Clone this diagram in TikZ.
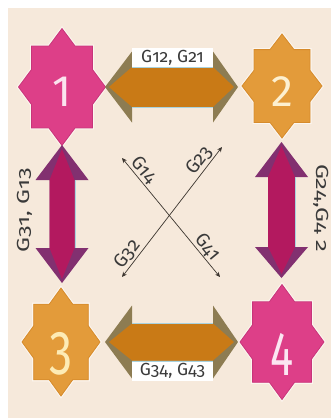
\documentclass[tikz,border=0pt]{standalone}
\usepackage{fontspec}
\usepackage{graphicx}
\usetikzlibrary{arrows.meta}
\setmainfont{Fira Sans}
\newfontfamily\labfont{Fira Sans}[Numbers=OldStyle]
\newfontfamily\digfont{Fira Sans}[Numbers=Lining]
\definecolor{bg}{HTML}{F6E9DB}
\definecolor{halo}{HTML}{FCF6EF}
\definecolor{pinkstar}{HTML}{DD3F88}
\definecolor{pinkedge}{HTML}{C8357A}
\definecolor{orstar}{HTML}{E39B3A}
\definecolor{oredge}{HTML}{D68B2C}
\definecolor{harrow}{HTML}{C97A16}
\definecolor{hflange}{HTML}{8D7C52}
\definecolor{varrow}{HTML}{B3195F}
\definecolor{vflange}{HTML}{823070}
\definecolor{labtext}{HTML}{3A3A3A}
\definecolor{glow}{HTML}{A9D2DE}
\definecolor{crossline}{HTML}{3B342E}
\definecolor{dgone}{HTML}{FBE3EE}
\definecolor{dgtwo}{HTML}{FDF0D0}
\definecolor{dgthree}{HTML}{FDEBB5}
\definecolor{dgfour}{HTML}{FBE6F2}
\newcommand\eightstar[5]{%
  \begin{scope}[shift={(#1,#2)},xscale=#3,yscale=#4]
  \draw[halo,line width=3pt,line join=miter] (0,-1)--(0.3,-0.7)--(0.7,-0.7)--(0.7,-0.3)--(1,0)--(0.7,0.3)--(0.7,0.7)--(0.3,0.7)--(0,1)--(-0.3,0.7)--(-0.7,0.7)--(-0.7,0.3)--(-1,0)--(-0.7,-0.3)--(-0.7,-0.7)--(-0.3,-0.7)--cycle;
  \filldraw[#5] (0,-1)--(0.3,-0.7)--(0.7,-0.7)--(0.7,-0.3)--(1,0)--(0.7,0.3)--(0.7,0.7)--(0.3,0.7)--(0,1)--(-0.3,0.7)--(-0.7,0.7)--(-0.7,0.3)--(-1,0)--(-0.7,-0.3)--(-0.7,-0.7)--(-0.3,-0.7)--cycle;
  \end{scope}}
\begin{document}
\begin{tikzpicture}[x=1pt,y=-1pt,
  pinkst/.style={fill=pinkstar,draw=pinkedge,line width=0.8pt},
  orst/.style={fill=orstar,draw=oredge,line width=0.8pt},
  lab/.style={font=\labfont\fontsize{17.5}{20}\selectfont, text=labtext, inner sep=0pt},
  dig/.style={font=\digfont\fontsize{44}{50}\selectfont, inner sep=0pt},
  bigdig/.style={font=\digfont\fontsize{62}{70}\selectfont, inner sep=0pt},
  cross/.style={draw=crossline, line width=0.7pt, {Stealth[length=5pt,width=4.5pt]}-{Stealth[length=5pt,width=4.5pt]}},
  clab/.style={font=\labfont\fontsize{19}{21}\selectfont, text=labtext, sloped, above, inner sep=1.5pt},
  glowline/.style={draw=glow, line width=0.8pt}
]
\useasboundingbox (0,0) rectangle (331,418);
\fill[bg] (8,8) rectangle (331,418);
% stars
\eightstar{62}{87}{43.5}{58.5}{pinkst}
\eightstar{282}{86}{40}{52}{orst}
\eightstar{61}{342}{39}{54}{orst}
\eightstar{282}{342}{42}{57.5}{pinkst}
\node[dig, text=dgone] (n1) at (62,91.5) {1};
\node[dig, text=dgtwo] (n2) at (282,91.5) {2};
\node[bigdig, text=dgthree] (n3) at (61,353.5) {\scalebox{0.75}[1]{3}};
\node[bigdig, text=dgfour] (n4) at (282,354) {\scalebox{0.7}[1]{4}};
% top horizontal arrow
\fill[hflange] (105,87)--(132,51.5)--(132,67)--(213,67)--(213,51.5)--(238,87)--(213,122.5)--(213,107)--(132,107)--(132,122.5)--cycle;
\fill[harrow] (109,87)--(132,67)--(213,67)--(234,87)--(213,107)--(132,107)--cycle;
\fill[white] (132,48) rectangle (213,66.6);
\draw[glowline] (132,67.2)--(213,67.2);
\draw[glowline] (132,107.6)--(213,107.6);
\node[lab] (l12) at (172.5,57.5) {G12, G21};
% bottom horizontal arrow
\fill[hflange] (105,342)--(132,305.5)--(132,323.5)--(213,323.5)--(213,305.5)--(238,342)--(213,378.5)--(213,360.5)--(132,360.5)--(132,378.5)--cycle;
\fill[harrow] (109,342)--(132,323.5)--(213,323.5)--(234,342)--(213,360.5)--(132,360.5)--cycle;
\fill[white] (132,361.4) rectangle (213,381);
\draw[glowline] (132,322.9)--(213,322.9);
\draw[glowline] (132,361)--(213,361);
\node[lab] (l34) at (172.5,371) {G34, G43};
% left vertical arrow
\fill[vflange] (62,145)--(88.5,180)--(74.5,180)--(74.5,248)--(88.5,248)--(62,283)--(35.5,248)--(49.5,248)--(49.5,180)--(35.5,180)--cycle;
\fill[varrow] (62,149)--(74.5,180)--(74.5,248)--(62,279)--(49.5,248)--(49.5,180)--cycle;
\draw[glowline] (75.1,180)--(75.1,248);
\node[lab, rotate=90] (l13) at (25,210) {\scalebox{1.35}[1]{G31, G13}};
% right vertical arrow
\fill[vflange] (281.5,142)--(308,177)--(295,177)--(295,247)--(308,247)--(281.5,278)--(255,247)--(268,247)--(268,177)--(255,177)--cycle;
\fill[varrow] (281.5,146)--(295,177)--(295,247)--(281.5,274)--(268,247)--(268,177)--cycle;
\draw[glowline] (295.6,177)--(295.6,247);
\node[lab, rotate=-90] (l24) at (321,208) {\scalebox{1.35}[1]{G24,G4 2}};
% cross arrows
\coordinate (a1) at (122,158);
\coordinate (a2) at (220,277);
\coordinate (b1) at (122,277);
\coordinate (b2) at (222,147);
\draw[cross] (a1) -- node[clab,pos=0.15] (l14) {G14} node[clab,pos=0.8] (l41) {G41} (a2);
\draw[cross] (b1) -- node[clab,pos=0.13] (l32) {G32} node[clab,pos=0.85] (l23) {G23} (b2);
\end{tikzpicture}
\end{document}
